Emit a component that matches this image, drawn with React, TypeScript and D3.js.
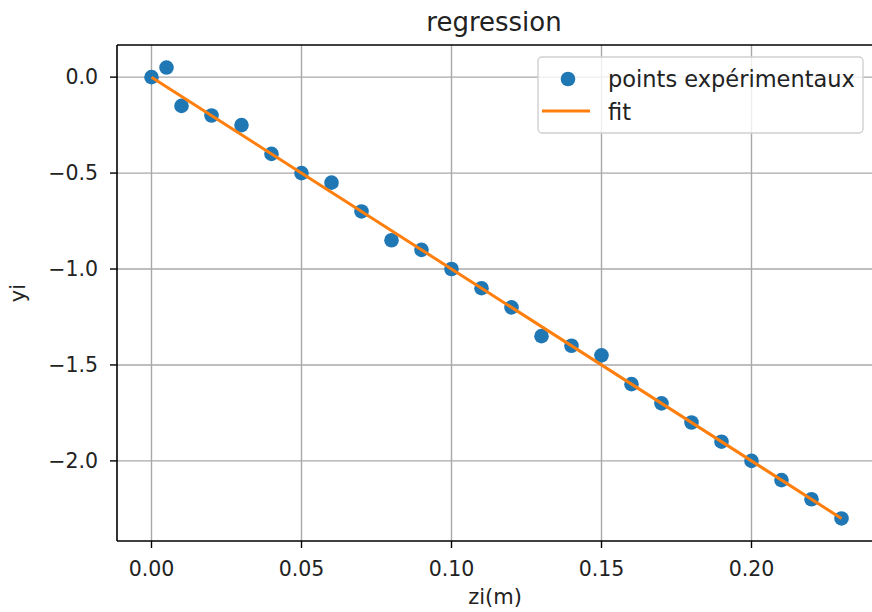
import React from "react";
import * as d3 from "d3";

const zi = [0, 0.005, 0.01, 0.02, 0.03, 0.04, 0.05, 0.06, 0.07, 0.08, 0.09, 0.1, 0.11, 0.12, 0.13, 0.14, 0.15, 0.16, 0.17, 0.18, 0.19, 0.2, 0.21, 0.22, 0.23];
const yi = [0, 0.05, -0.15, -0.2, -0.25, -0.4, -0.5, -0.55, -0.7, -0.85, -0.9, -1.0, -1.1, -1.2, -1.35, -1.4, -1.45, -1.6, -1.7, -1.8, -1.9, -2.0, -2.1, -2.2, -2.3];
const fitX = [0, 0.23];
const fitY = [0, -2.3];
const xTicks = [0, 0.05, 0.1, 0.15, 0.2];
const yTicks = [0, -0.5, -1.0, -1.5, -2.0];
const xDomain = [-0.0115, 0.2415];
const yDomain = [-2.4175, 0.1675];

const W = 872, H = 612;
const L = 117, R = 876, T = 45, B = 541;
const FONT = "DejaVu Sans, sans-serif";
const BLUE = "#1f77b4", ORANGE = "#ff7f0e";

export default function App() {
  const x = d3.scaleLinear().domain(xDomain).range([L, R]);
  const y = d3.scaleLinear().domain(yDomain).range([B, T]);
  const line = d3.line<number>().x((_, i) => x(fitX[i])).y((d) => y(d));
  const fmtX = d3.format(".2f");
  const fmtY = (v: number) => d3.format(".1f")(v).replace("-", "\u2212");
  return (
    <svg width={W} height={H} style={{ position: "absolute", left: 0, top: 0, background: "#fff" }} fontFamily={FONT}>
      <rect x={0} y={0} width={W} height={H} fill="#fff" />
      {xTicks.map((t) => (
        <line key={"gx" + t} x1={x(t)} x2={x(t)} y1={T} y2={B} stroke="#a8a8a8" strokeWidth={1.4} />
      ))}
      {yTicks.map((t) => (
        <line key={"gy" + t} x1={L} x2={W} y1={y(t)} y2={y(t)} stroke="#a8a8a8" strokeWidth={1.4} />
      ))}
      {zi.map((v, i) => (
        <circle key={"p" + i} cx={x(v)} cy={y(yi[i])} r={7.3} fill={BLUE} />
      ))}
      <path d={line(fitY) || ""} fill="none" stroke={ORANGE} strokeWidth={3} />
      <line x1={L} x2={L} y1={T} y2={B} stroke="#000" strokeWidth={1.6} />
      <line x1={L} x2={W} y1={T} y2={T} stroke="#000" strokeWidth={1.6} />
      <line x1={L} x2={W} y1={B} y2={B} stroke="#000" strokeWidth={1.6} />
      {xTicks.map((t) => (
        <g key={"tx" + t}>
          <line x1={x(t)} x2={x(t)} y1={B} y2={B + 7} stroke="#000" strokeWidth={1.4} />
          <text x={x(t)} y={576} textAnchor="middle" fontSize={20.5} fill="#222">{fmtX(t)}</text>
        </g>
      ))}
      {yTicks.map((t) => (
        <g key={"ty" + t}>
          <line x1={L - 7} x2={L} y1={y(t)} y2={y(t)} stroke="#000" strokeWidth={1.4} />
          <text x={98} y={y(t)} dy="0.35em" textAnchor="end" fontSize={20.5} fill="#222">{fmtY(t)}</text>
        </g>
      ))}
      <text x={494} y={31} textAnchor="middle" fontSize={26} fill="#222">regression</text>
      <text x={495} y={604} textAnchor="middle" fontSize={21} fill="#222">zi(m)</text>
      <text transform={`translate(25,${(T + B) / 2}) rotate(-90)`} textAnchor="middle" fontSize={21} fill="#222">yi</text>
      <g>
        <rect x={538} y={57} width={325} height={76} rx={4} fill="#fff" fillOpacity={0.8} stroke="#d0d0d0" strokeWidth={1.4} />
        <circle cx={568} cy={79} r={7.3} fill={BLUE} />
        <text x={608} y={79} dy="0.35em" fontSize={22.5} fill="#222">points expérimentaux</text>
        <line x1={542} x2={590} y1={111} y2={111} stroke={ORANGE} strokeWidth={3} />
        <text x={608} y={112} dy="0.35em" fontSize={22.5} fill="#222">fit</text>
      </g>
    </svg>
  );
}
